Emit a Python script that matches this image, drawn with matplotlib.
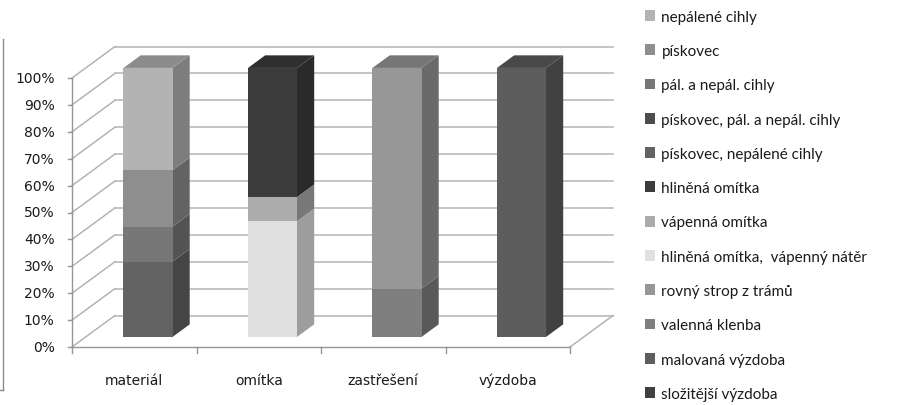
import matplotlib
matplotlib.use("Agg")
import matplotlib.pyplot as plt
import numpy as np
from matplotlib.patches import Patch
from matplotlib.lines import Line2D

categories = ['materiál', 'omítka', 'zastřešení', 'výzdoba']

# series in legend order (top of legend = top of stack)
series_names = ['nepálené cihly', 'pískovec', 'pál. a nepál. cihly',
                'pískovec, pál. a nepál. cihly', 'pískovec, nepálené cihly',
                'hliněná omítka', 'vápenná omítka',
                'hliněná omítka,  vápenný nátěr', 'rovný strop z trámů',
                'valenná klenba', 'malovaná výzdoba', 'složitější výzdoba']
series_colors = ['#b3b3b3', '#8e8e8e', '#777777', '#4d4d4d', '#636363',
                 '#3c3c3c', '#acacac', '#e0e0e0', '#979797', '#7f7f7f',
                 '#5d5d5d', '#3f3f3f']
# percent per category (materiál, omítka, zastřešení, výzdoba)
nepalene_cihly = [38, 0, 0, 0]
piskovec = [21, 0, 0, 0]
pal_nepal_cihly = [13, 0, 0, 0]
piskovec_pal_nepal = [0, 0, 0, 0]
piskovec_nepalene = [28, 0, 0, 0]
hlinena_omitka = [0, 48, 0, 0]
vapenna_omitka = [0, 9, 0, 0]
hlinena_vapenny_nater = [0, 43, 0, 0]
rovny_strop = [0, 0, 82, 0]
valenna_klenba = [0, 0, 18, 0]
malovana_vyzdoba = [0, 0, 0, 100]
slozitejsi_vyzdoba = [0, 0, 0, 0]

series_values = [nepalene_cihly, piskovec, pal_nepal_cihly, piskovec_pal_nepal,
                 piskovec_nepalene, hlinena_omitka, vapenna_omitka,
                 hlinena_vapenny_nater, rovny_strop, valenna_klenba,
                 malovana_vyzdoba, slozitejsi_vyzdoba]
yticks = np.arange(0, 101, 10)

# fake 3d: depth offset of the back wall in data units
DX, DY = 0.345, 11.7
d_front, d_back = 0.32, 0.72
bar_w = 0.394

def proj(x, y, d):
    return x + d * DX, y + d * DY

def shade(c, f):
    rgb = np.array(matplotlib.colors.to_rgb(c)) * f
    return tuple(rgb)

fig = plt.figure(figsize=(9.06, 4.06), dpi=100)
ax = fig.add_axes([0, 0, 1, 1])
ax.set_xlim(-72 / 124.5, (906 - 72) / 124.5)
ax.set_ylim(-(406 - 348) / 2.69, 348 / 2.69)
ax.axis('off')

n = len(categories)
grid_c = '#b4b4b4'
axis_c = '#969696'

# back wall and left wall grid
for t in yticks:
    x0, y0 = proj(0, t, 1)
    x1, y1 = proj(n, t, 1)
    ax.plot([x0, x1], [y0, y1], color=grid_c, lw=1.1, zorder=1)
    fx, fy = proj(0, t, 0)
    ax.plot([fx, x0], [fy, y0], color=grid_c, lw=1.1, zorder=1)
# floor right edge
x0, y0 = proj(n, 0, 0)
x1, y1 = proj(n, 0, 1)
ax.plot([x0, x1], [y0, y1], color=grid_c, lw=1.1, zorder=1)

# front axes
ax.plot([0, 0], [0, 100], color=axis_c, lw=1.0, zorder=2)
ax.plot([0, n], [0, 0], color=axis_c, lw=1.0, zorder=2)
for t in yticks:
    ax.plot([-0.035, 0], [t, t], color=axis_c, lw=1.0, zorder=2)
    ax.text(-0.14, t, f'{t}%', ha='right', va='center', fontsize=10,
            color='#1a1a1a', family='DejaVu Sans')
for i in range(n + 1):
    ax.plot([i, i], [0, -2.2], color=axis_c, lw=1.0, zorder=2)
for i, c in enumerate(categories):
    ax.text(i + 0.5, -12.3, c, ha='center', va='center', fontsize=10,
            color='#1a1a1a', family='DejaVu Sans')

# bars, stacked bottom-to-top = reversed legend order
for i in range(n):
    xl = i + 0.5 - bar_w / 2
    xr = i + 0.5 + bar_w / 2
    bottom = 0
    top_color = None
    for name, vals, col in zip(series_names[::-1], series_values[::-1],
                               series_colors[::-1]):
        v = vals[i]
        if v <= 0:
            continue
        y0, y1 = bottom, bottom + v
        front = [proj(xl, y0, d_front), proj(xr, y0, d_front),
                 proj(xr, y1, d_front), proj(xl, y1, d_front)]
        side = [proj(xr, y0, d_front), proj(xr, y0, d_back),
                proj(xr, y1, d_back), proj(xr, y1, d_front)]
        ax.fill(*zip(*side), color=shade(col, 0.7), lw=0, zorder=3)
        ax.fill(*zip(*front), color=col, lw=0, zorder=4)
        bottom = y1
        top_color = col
    if top_color is not None:
        topf = [proj(xl, bottom, d_front), proj(xr, bottom, d_front),
                proj(xr, bottom, d_back), proj(xl, bottom, d_back)]
        ax.fill(*zip(*topf), color=shade(top_color, 0.78), lw=0, zorder=3)

# chart area border fragment on the left
fig.add_artist(Line2D([2.5 / 906, 2.5 / 906], [1 - 40 / 406, 1 - 391 / 406],
                      color='#8c8c8c', lw=1.0))
fig.add_artist(Line2D([0, 2.5 / 906], [1 - 391 / 406, 1 - 391 / 406],
                      color='#8c8c8c', lw=1.0))

handles = [Patch(facecolor=c, edgecolor='none') for c in series_colors]
fig.legend(handles, series_names, loc='upper left',
           bbox_to_anchor=(640 / 906, 1 - 6 / 406), frameon=False,
           prop={'family': 'Lato', 'size': 11}, labelspacing=1.33,
           handlelength=0.7, handleheight=0.7, handletextpad=0.4,
           borderaxespad=0, borderpad=0.3, labelcolor='#1a1a1a')

fig.savefig('out.png', dpi=100)
